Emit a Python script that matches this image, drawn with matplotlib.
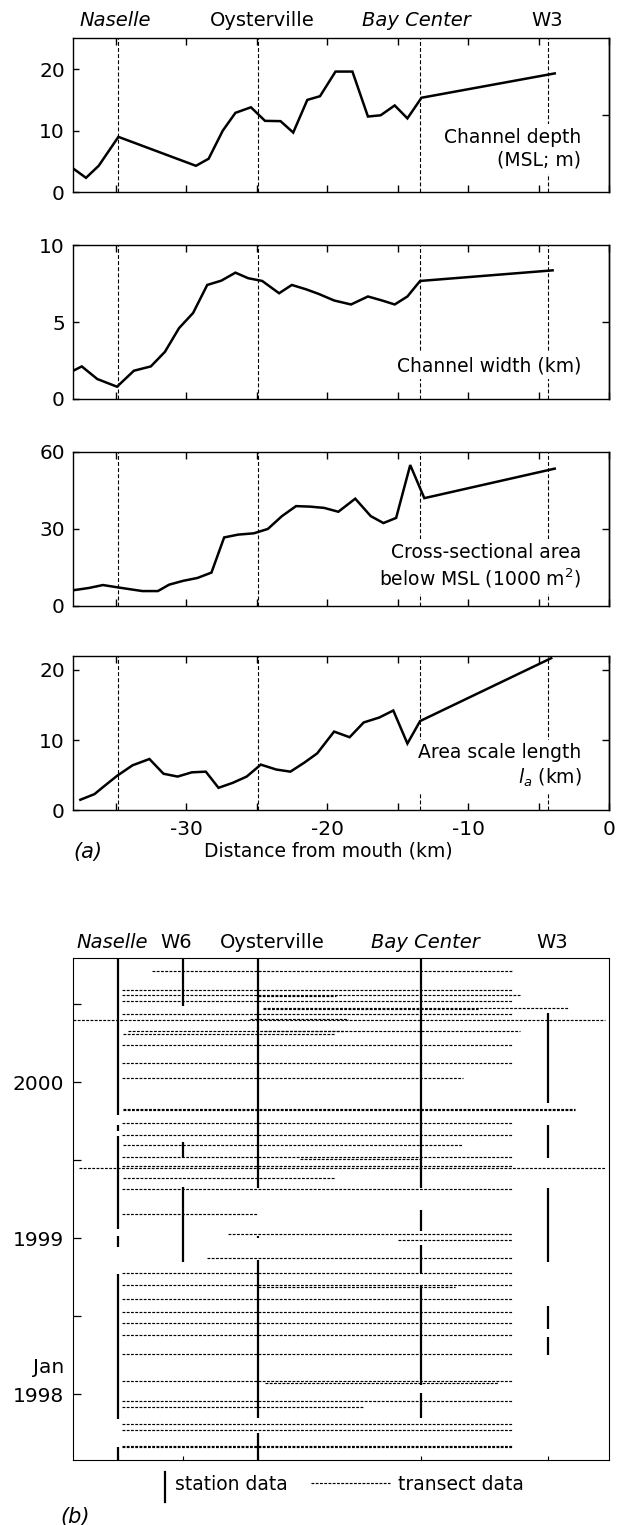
import matplotlib
matplotlib.use("Agg")
import matplotlib.pyplot as plt
from matplotlib.lines import Line2D
from matplotlib.ticker import MultipleLocator

plt.rcParams['font.family'] = ['DejaVu Sans']
plt.rcParams['mathtext.fontset'] = 'dejavusans'
plt.rcParams['axes.unicode_minus'] = False

# ---------------- data: panel (a) ----------------
station_names = ["Naselle", "Oysterville", "Bay Center", "W3"]
station_km = [-34.8, -24.9, -13.4, -4.36]

depth_km = [-38.0, -37.1, -36.2, -34.8, -29.3, -28.4, -27.4, -26.5, -25.4, -24.4, -23.3,
            -22.4, -21.4, -20.5, -19.4, -18.2, -17.1, -16.2, -15.2, -14.3, -13.3, -3.85]
depth = [3.85, 2.35, 4.3, 9.0, 4.3, 5.45, 10.0, 12.9, 13.8, 11.6, 11.55,
         9.7, 15.0, 15.6, 19.6, 19.6, 12.3, 12.5, 14.1, 12.0, 15.35, 19.3]

width_km = [-38.0, -37.4, -36.3, -34.9, -33.7, -32.5, -31.5, -30.5, -29.5, -28.5, -27.5, -26.5, -25.6,
            -24.6, -23.4, -22.5, -21.5, -20.6, -19.5, -18.3, -17.1, -16.1, -15.2, -14.3, -13.4, -4.0]
width = [1.84, 2.12, 1.30, 0.80, 1.84, 2.12, 3.07, 4.61, 5.6, 7.42, 7.7, 8.22, 7.86,
         7.68, 6.88, 7.42, 7.14, 6.84, 6.41, 6.15, 6.67, 6.41, 6.15, 6.67, 7.68, 8.37]

area_km = [-37.9, -36.9, -35.9, -34.8, -33.1, -32.0, -31.2, -30.2, -29.2, -28.2, -27.3, -26.3, -25.2,
           -24.2, -23.2, -22.2, -21.2, -20.2, -19.2, -18.0, -16.9, -16.0, -15.1, -14.1, -13.1, -3.85]
area = [6.1, 6.9, 8.05, 7.1, 5.7, 5.7, 8.2, 9.7, 10.8, 12.9, 26.6, 27.7, 28.2,
        29.9, 34.9, 38.8, 38.6, 38.1, 36.6, 41.7, 34.9, 32.2, 34.2, 54.8, 41.9, 53.4]

la_km = [-37.5, -36.5, -35.8, -34.9, -33.8, -32.6, -31.6, -30.6, -29.6, -28.6, -27.7, -26.7, -25.7,
         -24.7, -23.6, -22.6, -21.6, -20.7, -19.5, -18.4, -17.4, -16.3, -15.3, -14.3, -13.4, -4.1]
la = [1.5, 2.3, 3.45, 4.9, 6.4, 7.3, 5.2, 4.8, 5.4, 5.5, 3.2, 3.9, 4.8,
      6.5, 5.8, 5.5, 6.8, 8.1, 11.2, 10.4, 12.5, 13.2, 14.2, 9.5, 12.7, 21.65]

# ---------------- data: panel (b) ----------------
b_station_names = ["Naselle", "W6", "Oysterville", "Bay Center", "W3"]
b_station_km = [-34.85, -30.24, -24.88, -13.34, -4.34]

# station records: station index, start year, end year
rec_station = [0, 0, 0, 0, 0, 0,
               1, 1, 1,
               2, 2, 2, 2,
               3, 3, 3, 3, 3,
               4, 4, 4, 4, 4]
rec_start = [1999.793, 1999.686, 1999.061, 1998.943, 1997.840, 1997.578,
             2000.487, 1999.515, 1998.851,
             1999.322, 1999.003, 1997.846, 1997.578,
             1999.322, 1999.044, 1998.777, 1998.060, 1997.846,
             1999.868, 1999.515, 1998.845, 1998.417, 1998.252]
rec_end = [2000.800, 1999.730, 1999.654, 1999.018, 1998.770, 1997.664,
           2000.800, 1999.621, 1999.329,
           2000.800, 1999.015, 1998.862, 1997.750,
           2000.800, 1999.183, 1998.954, 1998.701, 1998.006,
           2000.445, 1999.728, 1999.322, 1998.567, 1998.370]

# transects: time (year), start km, end km
tr_time = [2000.717, 2000.595, 2000.561, 2000.555, 2000.524, 2000.477, 2000.472, 2000.440,
           2000.400, 2000.405, 2000.332, 2000.327, 2000.312, 2000.238, 2000.122, 2000.028,
           1999.829, 1999.823, 1999.739, 1999.660, 1999.600, 1999.521, 1999.508, 1999.467,
           1999.448, 1999.386, 1999.318, 1999.157, 1999.027, 1998.990, 1998.873, 1998.780,
           1998.700, 1998.687, 1998.610, 1998.526, 1998.456, 1998.381, 1998.259, 1998.085,
           1998.071, 1997.959, 1997.920, 1997.807, 1997.771, 1997.668, 1997.664]
tr_start = [-32.44, -34.57, -34.57, -24.90, -34.57, -24.52, -24.52, -34.57,
            -38.00, -25.47, -24.50, -34.10, -34.45, -34.57, -34.57, -34.57,
            -34.47, -34.47, -34.57, -34.57, -34.45, -34.57, -21.92, -34.57,
            -37.60, -34.45, -34.57, -34.57, -27.05, -14.99, -28.54, -34.57,
            -34.57, -24.88, -34.57, -34.57, -34.57, -34.57, -34.57, -34.57,
            -24.40, -34.57, -34.57, -34.57, -34.57, -34.57, -34.57]
tr_end = [-6.86, -6.86, -6.32, -19.40, -6.86, -2.86, -9.31, -6.86,
          -0.29, -18.50, -18.90, -6.30, -19.44, -6.86, -6.86, -10.34,
          -2.38, -2.38, -6.86, -6.86, -10.34, -6.86, -13.41, -6.86,
          -0.30, -19.44, -6.86, -24.95, -6.86, -6.86, -6.86, -6.86,
          -6.86, -10.93, -6.86, -6.86, -6.86, -6.86, -6.86, -6.86,
          -7.86, -6.86, -17.43, -6.86, -6.86, -6.86, -6.86]

year_ticks = [1998, 1998.5, 1999, 1999.5, 2000, 2000.5]
year_labels = ["1998", "", "1999", "", "2000", ""]

# ---------------- layout ----------------
W, H = 618, 1525
fig = plt.figure(figsize=(W / 100, H / 100), dpi=100)


def rect(l, t, r, b):
    return [l / W, 1 - b / H, (r - l) / W, (b - t) / H]


def ftext(x, y, s, **kw):
    fig.text(x / W, 1 - y / H, s, **kw)


LEFT, RIGHT = 73.3, 609.0
TICK_FS = 14.5
TXT_FS = 13.5

panel_rows = [(38.3, 192.3), (245.3, 399.0), (451.7, 605.7), (655.7, 810.3)]
panel_data = [(depth_km, depth), (width_km, width), (area_km, area), (la_km, la)]
panel_ylim = [25, 10, 60, 22]
panel_yticks = [[0, 10, 20], [0, 5, 10], [0, 30, 60], [0, 10, 20]]
panel_rticks = [[12.5], [5], [30], [10, 20]]
panel_text = ["Channel depth\n(MSL; m)", "Channel width (km)",
              "Cross-sectional area\nbelow MSL (1000 m$^2$)", "Area scale length\n$l_a$ (km)"]
panel_text_y = [7.1, 2.17, 15.2, 6.33]

axes_a = []
for i, (t, b) in enumerate(panel_rows):
    ax = fig.add_axes(rect(LEFT, t, RIGHT, b))
    axes_a.append(ax)
    xs, ys = panel_data[i]
    ax.plot(xs, ys, color='black', lw=1.8, zorder=4, solid_joinstyle='miter')
    for sk in station_km:
        ax.axvline(sk, color='black', lw=0.8, ls=(0, (3.5, 2.0)), zorder=1)
    ax.set_xlim(-38, 0)
    ax.set_ylim(0, panel_ylim[i])
    ax.set_yticks(panel_yticks[i])
    ax.set_xticks([-30, -20, -10, 0])
    ax.xaxis.set_minor_locator(MultipleLocator(5))
    ax.tick_params(axis='x', which='both', top=True, bottom=True, direction='in', length=5,
                   width=1.0, labelbottom=(i == 3), labelsize=TICK_FS, pad=7)
    ax.tick_params(axis='y', which='both', left=True, right=False, direction='in', length=4,
                   width=1.0, labelsize=TICK_FS, pad=6)
    sec = ax.secondary_yaxis('right')
    sec.set_yticks(panel_rticks[i])
    sec.tick_params(direction='in', length=5, width=1.0, labelright=False)
    sec.spines['right'].set_linewidth(1.0)
    for sp in ax.spines.values():
        sp.set_linewidth(1.0)
    ax.text(-1.96, panel_text_y[i], panel_text[i], ha='right', va='center', fontsize=TXT_FS,
            linespacing=1.25, zorder=3,
            bbox=dict(facecolor='white', edgecolor='none', pad=3))

# headers over panel (a)
hdr_a_km = [-35.04, -24.61, -13.63, -4.41]
hdr_a_style = ['italic', 'normal', 'italic', 'normal']
for name, xk, st in zip(station_names, hdr_a_km, hdr_a_style):
    axes_a[0].text(xk, 1.114, name, transform=axes_a[0].get_xaxis_transform(), ha='center',
                   va='center', fontsize=TXT_FS + 0.5, style=st)

ftext(328, 851, "Distance from mouth (km)", ha='center', va='center', fontsize=TXT_FS)
ftext(88, 852, "(a)", ha='center', va='center', fontsize=15, style='italic')

# ---------------- panel (b) ----------------
axb = fig.add_axes(rect(LEFT, 957.7, RIGHT, 1460.0))
for k in range(len(tr_time)):
    axb.plot([tr_start[k], tr_end[k]], [tr_time[k], tr_time[k]], color='black', lw=0.85,
             ls=(0, (2.4, 1.2)), zorder=2)
for k in range(len(rec_station)):
    xk = b_station_km[rec_station[k]]
    axb.plot([xk, xk], [rec_start[k], rec_end[k]], color='black', lw=1.6,
             solid_capstyle='butt', zorder=3)
axb.set_xlim(-38, 0)
axb.set_ylim(1997.578, 2000.80)
axb.set_yticks(year_ticks)
axb.set_yticklabels(year_labels)
axb.set_xticks(b_station_km)
axb.tick_params(axis='x', direction='in', length=3, width=0.8, labelbottom=False)
axb.tick_params(axis='y', direction='in', length=6, width=0.9, labelsize=TICK_FS, pad=7)
for sp in axb.spines.values():
    sp.set_linewidth(0.8)
axb.text(-0.016, 1998.169, "Jan", transform=axb.get_yaxis_transform(), ha='right', va='center',
         fontsize=TICK_FS)

hdr_b_km = [-35.23, -30.73, -23.91, -13.04, -4.03]
hdr_b_style = ['italic', 'normal', 'normal', 'italic', 'normal']
for name, xk, st in zip(b_station_names, hdr_b_km, hdr_b_style):
    axb.text(xk, 1.031, name, transform=axb.get_xaxis_transform(), ha='center', va='center',
             fontsize=TXT_FS + 0.5, style=st)

# legend
fig.add_artist(Line2D([164.8 / W, 164.8 / W], [1 - 1472 / H, 1 - 1501.7 / H], color='black',
                      lw=1.6, transform=fig.transFigure))
ftext(175.4, 1485, "station data", ha='left', va='center', fontsize=TXT_FS)
fig.add_artist(Line2D([311.4 / W, 390.2 / W], [1 - 1483 / H, 1 - 1483 / H], color='black',
                      lw=0.85, ls=(0, (2.4, 1.2)), transform=fig.transFigure))
ftext(398, 1485, "transect data", ha='left', va='center', fontsize=TXT_FS)
ftext(75, 1517, "(b)", ha='center', va='center', fontsize=15, style='italic')

fig.savefig("out.png", dpi=100)
